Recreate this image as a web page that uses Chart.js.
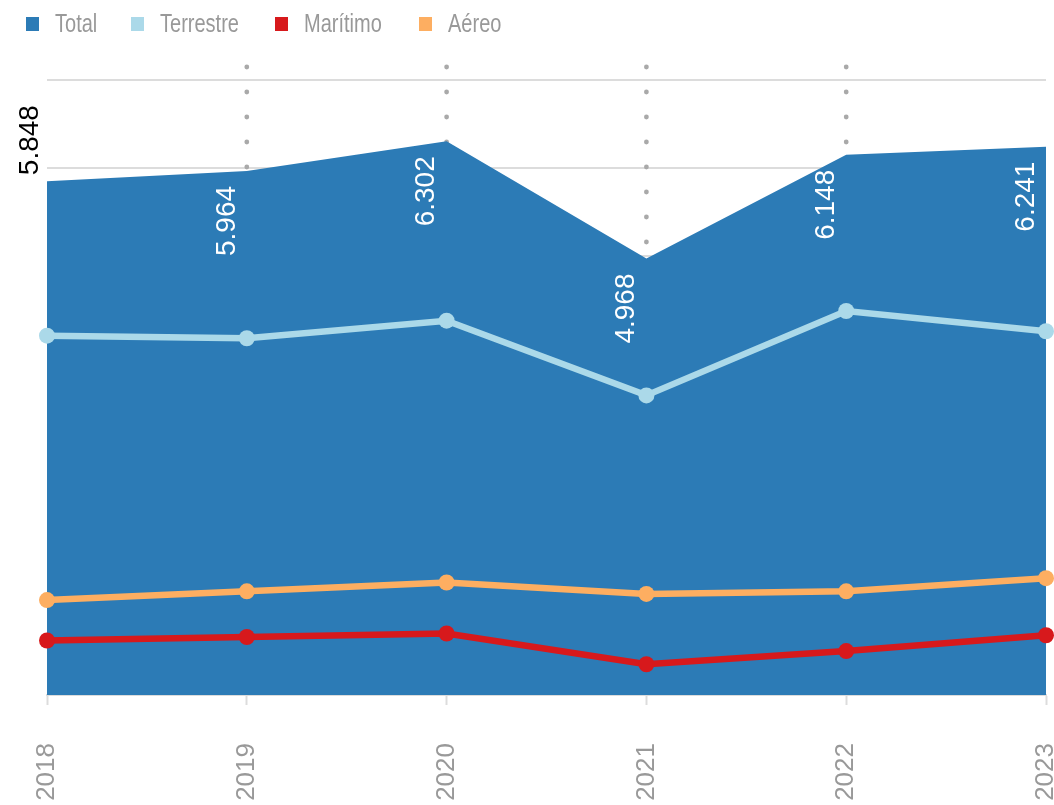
<!DOCTYPE html>
<html>
<head>
<meta charset="utf-8">
<script src="https://cdn.jsdelivr.net/npm/chart.js@4/dist/chart.umd.min.js"></script>
<style>
  html, body { margin: 0; padding: 0; background: #fff; }
  #wrap { position: relative; width: 1054px; height: 805px; }
  #legend {
    position: absolute; left: 26px; top: 8px; display: flex;
    font-family: "Liberation Sans", Arial, sans-serif;
    font-size: 26px; color: #999;
  }
  #legend .item { display: flex; align-items: center; }
  #legend .box { width: 13px; height: 14px; margin-right: 16px; flex: none; }
  #legend .txt { display: inline-block; transform: scaleX(0.77); transform-origin: left center; white-space: nowrap; }
</style>
</head>
<body>
<div id="wrap">
  <canvas id="chart" width="1054" height="805"></canvas>
  <div id="legend"></div>
</div>
<script>
// datos por año (miles)
const years = ["2018", "2019", "2020", "2021", "2022", "2023"];
const total = [5.848, 5.964, 6.302, 4.968, 6.148, 6.241];
const terrestre = [4.09, 4.06, 4.26, 3.41, 4.37, 4.14];
const maritimo = [0.62, 0.66, 0.70, 0.35, 0.50, 0.68];
const aereo = [1.08, 1.18, 1.28, 1.15, 1.18, 1.33];
const yTicks = [0, 1, 2, 3, 4, 5, 6, 7];

const colors = {
  total: "#2c7bb6",
  terrestre: "#abd9e9",
  maritimo: "#d7191c",
  aereo: "#fdae61",
};

// leyenda
const legendItems = [
  ["Total", colors.total, 105],
  ["Terrestre", colors.terrestre, 144],
  ["Marítimo", colors.maritimo, 144],
  ["Aéreo", colors.aereo, 120],
];
const legendEl = document.getElementById("legend");
legendItems.forEach(([name, color, width]) => {
  const item = document.createElement("div");
  item.className = "item";
  item.style.width = width + "px";
  item.innerHTML = `<span class="box" style="background:${color}"></span><span class="txt">${name}</span>`;
  legendEl.appendChild(item);
});

// lineas punteadas verticales
const dottedGuides = {
  id: "dottedGuides",
  beforeDatasetsDraw(chart) {
    const { ctx, chartArea, scales } = chart;
    ctx.save();
    ctx.fillStyle = "#a9a9a9";
    for (let i = 1; i < years.length - 1; i++) {
      const x = scales.x.getPixelForValue(i);
      for (let y = chartArea.top + 2; y < chartArea.bottom; y += 25) {
        ctx.beginPath();
        ctx.arc(x, y, 2.4, 0, Math.PI * 2);
        ctx.fill();
      }
    }
    ctx.restore();
  },
};

// etiquetas de valor del total, en vertical
const totalLabels = {
  id: "totalLabels",
  afterDatasetsDraw(chart) {
    const { ctx } = chart;
    const meta = chart.getDatasetMeta(0);
    ctx.save();
    ctx.font = "28px 'Liberation Sans', Arial, sans-serif";
    ctx.textBaseline = "middle";
    meta.data.forEach((pt, i) => {
      const text = total[i].toFixed(3);
      ctx.save();
      if (i === 0) {
        ctx.translate(pt.x - 17, pt.y - 6);
        ctx.rotate(-Math.PI / 2);
        ctx.textAlign = "left";
        ctx.fillStyle = "#000";
      } else {
        ctx.translate(pt.x - 20, pt.y + 15);
        ctx.rotate(-Math.PI / 2);
        ctx.textAlign = "right";
        ctx.fillStyle = "#fff";
      }
      ctx.fillText(text, 0, 0);
      ctx.restore();
    });
    ctx.restore();
  },
};

const lineStyle = (label, data, color) => ({
  label: label,
  data: data,
  borderColor: color,
  backgroundColor: color,
  borderWidth: 6.5,
  pointRadius: 8,
  pointHoverRadius: 8,
  pointBorderWidth: 0,
  fill: false,
  clip: false,
  order: 0,
});

new Chart(document.getElementById("chart"), {
  type: "line",
  data: {
    labels: years,
    datasets: [
      {
        label: "Total",
        data: total,
        backgroundColor: colors.total,
        borderWidth: 0,
        pointRadius: 0,
        fill: "origin",
        order: 1,
      },
      lineStyle("Terrestre", terrestre, colors.terrestre),
      lineStyle("Marítimo", maritimo, colors.maritimo),
      lineStyle("Aéreo", aereo, colors.aereo),
    ],
  },
  options: {
    responsive: false,
    animation: false,
    layout: {
      padding: { left: 47, right: 7, top: 65, bottom: 4 },
    },
    plugins: {
      legend: { display: false },
      tooltip: { enabled: false },
    },
    scales: {
      x: {
        offset: false,
        grid: {
          drawOnChartArea: false,
          drawTicks: true,
          tickLength: 10,
          tickWidth: 2,
          tickColor: "#dcdcdc",
        },
        border: { color: "#dcdcdc", width: 2 },
        ticks: {
          minRotation: 90,
          maxRotation: 90,
          padding: 38,
          color: "#999",
          font: { family: "'Liberation Sans', Arial, sans-serif", size: 26 },
        },
        afterFit(scale) {
          scale.paddingLeft = 0;
          scale.paddingRight = 0;
          scale.height = 106;
        },
      },
      y: {
        min: 0,
        max: 7.17,
        afterBuildTicks(scale) {
          scale.ticks = yTicks.map((v) => ({ value: v }));
        },
        grid: { color: "#dcdcdc", lineWidth: 2, drawTicks: false },
        border: { display: false },
        ticks: { display: false },
      },
    },
  },
  plugins: [dottedGuides, totalLabels],
});
</script>
</body>
</html>
